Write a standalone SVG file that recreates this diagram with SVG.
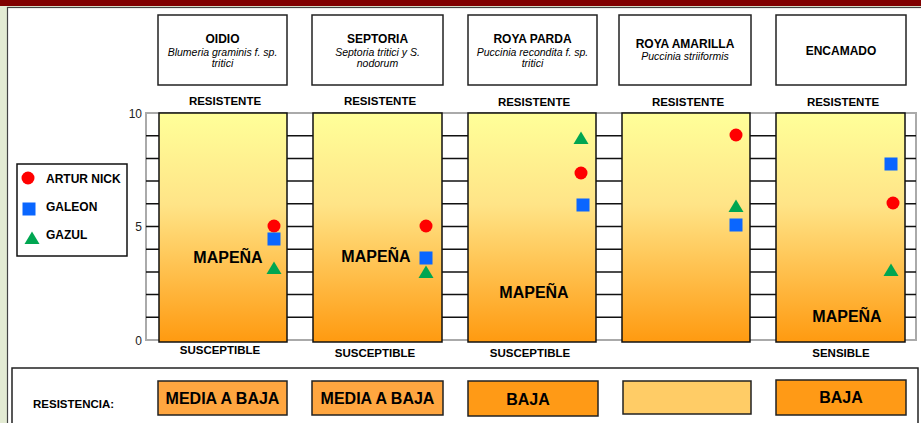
<svg xmlns="http://www.w3.org/2000/svg" xmlns:xlink="http://www.w3.org/1999/xlink" width="921" height="423" viewBox="0 0 921 423">
<style>
  text { font-family: "Liberation Sans", Arial, sans-serif; fill: #000; }
  .title { font-size: 12px; font-weight: bold; text-anchor: middle; }
  .sub { font-size: 10.5px; font-style: italic; text-anchor: middle; }
  .lab { font-size: 11.5px; font-weight: bold; text-anchor: middle; }
  .big { font-size: 16px; font-weight: bold; text-anchor: middle; }
  .leg { font-size: 12px; font-weight: bold; }
  .ax { font-size: 12px; text-anchor: end; fill: #222; }
  .hbox { fill: #fff; stroke: #222; stroke-width: 1.5; }
  .bar { fill: url(#g); stroke: #111; stroke-width: 1.5; }
  .grid { stroke: #111; stroke-width: 1.5; }
  .rbox { stroke: #222; stroke-width: 1.5; }
</style>
<defs>
  <linearGradient id="g" x1="0" y1="0" x2="0" y2="1">
    <stop offset="0" stop-color="#ffff99"/>
    <stop offset="0.4" stop-color="#ffe487"/>
    <stop offset="1" stop-color="#ff9a10"/>
  </linearGradient>
  <circle id="dot" r="6.5" fill="#ff0000"/>
  <rect id="sq" x="-6.5" y="-6.5" width="13" height="13" fill="#0a66ff"/>
  <path id="tri" d="M0,-6.5 L7.5,6 L-7.5,6 Z" fill="#00a651"/>
</defs>

<!-- background -->
<rect x="0" y="0" width="921" height="423" fill="#e3ebd3"/>
<rect x="0" y="0" width="921" height="6" fill="#800000"/>
<rect x="7.5" y="7.5" width="920" height="420" fill="#fff" stroke="#444" stroke-width="1.2"/>

<!-- plot frame and grid -->
<g id="plot">
  <rect x="146" y="113" width="770" height="227" fill="#fff" stroke="#aaa" stroke-width="2"/>
  <g class="grid">
    <line x1="146" y1="135.7" x2="916" y2="135.7"/>
    <line x1="146" y1="158.4" x2="916" y2="158.4"/>
    <line x1="146" y1="181.1" x2="916" y2="181.1"/>
    <line x1="146" y1="203.8" x2="916" y2="203.8"/>
    <line x1="146" y1="226.5" x2="916" y2="226.5"/>
    <line x1="146" y1="249.2" x2="916" y2="249.2"/>
    <line x1="146" y1="271.9" x2="916" y2="271.9"/>
    <line x1="146" y1="294.6" x2="916" y2="294.6"/>
    <line x1="146" y1="317.3" x2="916" y2="317.3"/>
  </g>
  <text class="ax" x="142" y="118">10</text>
  <text class="ax" x="142" y="231">5</text>
  <text class="ax" x="142" y="345">0</text>
</g>

<!-- legend -->
<g id="legend">
  <rect x="17" y="164" width="110" height="92" fill="#fff" stroke="#111" stroke-width="1.5"/>
  <use xlink:href="#dot" x="28" y="178"/>
  <text class="leg" x="46" y="183">ARTUR NICK</text>
  <use xlink:href="#sq" x="29" y="209"/>
  <text class="leg" x="46" y="211">GALEON</text>
  <use xlink:href="#tri" x="32" y="238"/>
  <text class="leg" x="46" y="239">GAZUL</text>
</g>

<!-- OIDIO -->
<g id="oidio">
  <rect class="hbox" x="158" y="15" width="129" height="70"/>
  <text class="title" x="222.5" y="43">OIDIO</text>
  <text class="sub" x="222.5" y="56">Blumeria graminis f. sp.</text>
  <text class="sub" x="222.5" y="67">tritici</text>
  <text class="lab" x="225" y="105">RESISTENTE</text>
  <rect class="bar" x="159" y="113" width="128" height="229"/>
  <text class="big" x="228" y="263">MAPEÑA</text>
  <use xlink:href="#dot" x="274" y="226"/>
  <use xlink:href="#sq" x="274" y="239"/>
  <use xlink:href="#tri" x="274" y="268"/>
  <text class="lab" x="220" y="354">SUSCEPTIBLE</text>
</g>

<!-- SEPTORIA -->
<g id="septoria">
  <rect class="hbox" x="312" y="15" width="131" height="70"/>
  <text class="title" x="377.5" y="43">SEPTORIA</text>
  <text class="sub" x="377.5" y="56">Septoria tritici y S.</text>
  <text class="sub" x="377.5" y="67">nodorum</text>
  <text class="lab" x="380" y="105">RESISTENTE</text>
  <rect class="bar" x="313" y="113" width="129" height="229"/>
  <text class="big" x="376" y="262">MAPEÑA</text>
  <use xlink:href="#dot" x="426" y="226"/>
  <use xlink:href="#sq" x="426" y="258"/>
  <use xlink:href="#tri" x="426" y="272"/>
  <text class="lab" x="375" y="357">SUSCEPTIBLE</text>
</g>

<!-- ROYA PARDA -->
<g id="roya-parda">
  <rect class="hbox" x="468" y="15" width="129" height="70"/>
  <text class="title" x="532.5" y="43">ROYA PARDA</text>
  <text class="sub" x="532.5" y="56">Puccinia recondita f. sp.</text>
  <text class="sub" x="532.5" y="67">tritici</text>
  <text class="lab" x="534" y="106">RESISTENTE</text>
  <rect class="bar" x="468" y="113" width="128" height="229"/>
  <text class="big" x="534" y="298">MAPEÑA</text>
  <use xlink:href="#tri" x="581" y="138"/>
  <use xlink:href="#dot" x="581" y="173"/>
  <use xlink:href="#sq" x="583" y="205"/>
  <text class="lab" x="530" y="357">SUSCEPTIBLE</text>
</g>

<!-- ROYA AMARILLA -->
<g id="roya-amarilla">
  <rect class="hbox" x="619" y="15" width="132" height="70"/>
  <text class="title" x="685" y="47.5">ROYA AMARILLA</text>
  <text class="sub" x="685" y="60">Puccinia  striiformis</text>
  <text class="lab" x="688" y="106">RESISTENTE</text>
  <rect class="bar" x="622" y="113" width="128" height="229"/>
  <use xlink:href="#dot" x="736" y="135"/>
  <use xlink:href="#tri" x="736" y="206"/>
  <use xlink:href="#sq" x="736" y="225"/>
</g>

<!-- ENCAMADO -->
<g id="encamado">
  <rect class="hbox" x="776" y="15" width="130" height="70"/>
  <text class="title" x="841" y="55">ENCAMADO</text>
  <text class="lab" x="843" y="106">RESISTENTE</text>
  <rect class="bar" x="776" y="113" width="129" height="229"/>
  <text class="big" x="847" y="322">MAPEÑA</text>
  <use xlink:href="#sq" x="891" y="164"/>
  <use xlink:href="#dot" x="893" y="203"/>
  <use xlink:href="#tri" x="891" y="270"/>
  <text class="lab" x="841" y="357">SENSIBLE</text>
</g>

<!-- resistance row -->
<g id="resistencia">
  <rect x="12" y="368" width="906" height="70" fill="#fff" stroke="#222" stroke-width="1.5"/>
  <text class="leg" x="33" y="408" style="font-size:11.5px">RESISTENCIA:</text>
  <rect class="rbox" x="158" y="381" width="129" height="34" fill="#ffa640"/>
  <text class="big" x="222.5" y="404">MEDIA A BAJA</text>
  <rect class="rbox" x="312" y="381" width="131" height="34" fill="#ffa640"/>
  <text class="big" x="377.5" y="404">MEDIA A BAJA</text>
  <rect class="rbox" x="468" y="381" width="130" height="35" fill="#ff9a16"/>
  <text class="big" x="528" y="405">BAJA</text>
  <rect class="rbox" x="623" y="381" width="128" height="33" fill="#ffcc66"/>
  <rect class="rbox" x="776" y="380" width="130" height="35" fill="#ff9a16"/>
  <text class="big" x="841" y="403">BAJA</text>
</g>
</svg>
